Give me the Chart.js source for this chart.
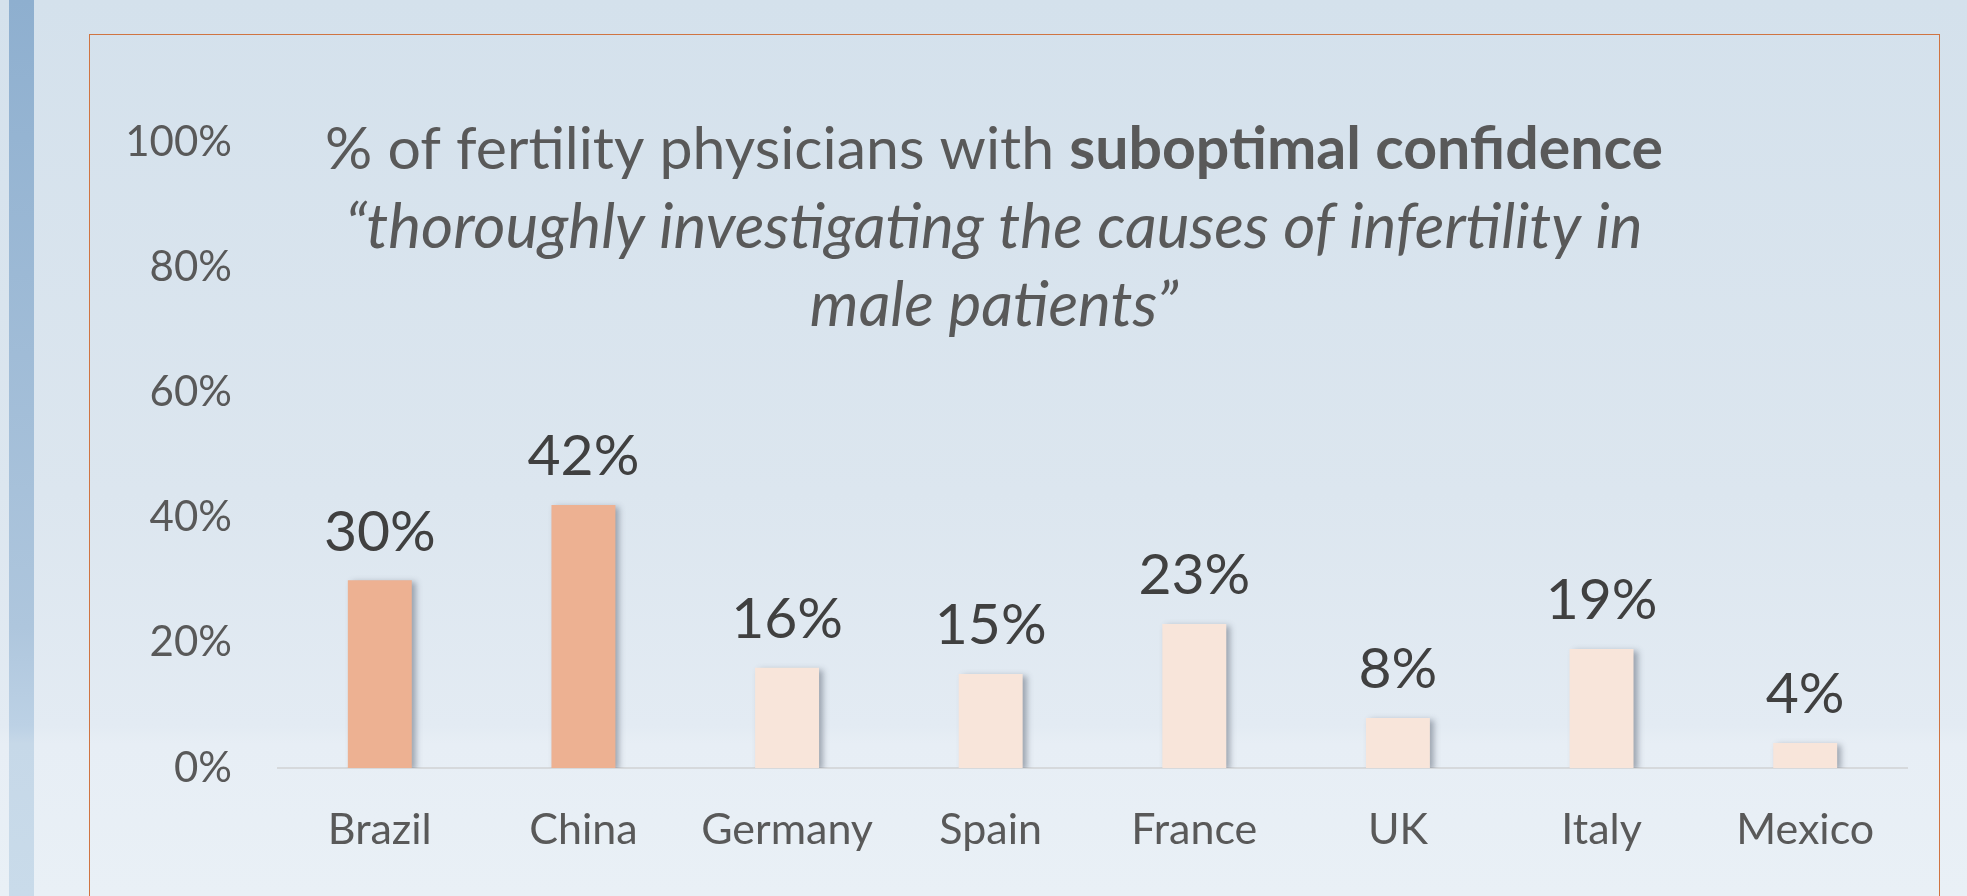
<!DOCTYPE html>
<html>
<head>
<meta charset="utf-8">
<script src="https://cdn.jsdelivr.net/npm/chart.js@4.4.1/dist/chart.umd.min.js"></script>
<style>
  html, body { margin: 0; padding: 0; width: 1967px; height: 896px; overflow: hidden; }
  body {
    position: relative;
    background: linear-gradient(to bottom, #d4e1ec 0%, #dce6ef 55%, #e3ebf3 81%, #e7eef5 83%, #e9f0f6 100%);
  }
  #sideBar {
    position: absolute; left: 9px; top: 0; width: 25px; height: 896px;
    background: linear-gradient(to bottom, #8eafcf 0%, #aec6dd 70%, #bcd1e5 81%, #c6d8e8 83%, #c9dbea 100%);
  }
  #frame {
    position: absolute; left: 89px; top: 34px; width: 1851px; height: 900px;
    border: 1px solid #cf7442; box-sizing: border-box;
  }
  #chartBox { position: absolute; left: 0; top: 0; width: 1967px; height: 896px; }
</style>
</head>
<body>
<div id="sideBar"></div>
<div id="frame"></div>
<div id="chartBox"><canvas id="confidenceChart" width="1967" height="896"></canvas></div>
<script>
const countries = ['Brazil', 'China', 'Germany', 'Spain', 'France', 'UK', 'Italy', 'Mexico'];
const suboptimalPct = [30, 42, 16, 15, 23, 8, 19, 4];
const highlighted = ['Brazil', 'China'];

const titleRegular = '% of fertility physicians with ';
const titleBold = 'suboptimal confidence';
const titleQuote = ['\u201Cthoroughly investigating the causes of infertility in', 'male patients\u201D'];

const FONT = 'Lato, "Open Sans", sans-serif';
const strongColor = '#edb192';
const paleColor = '#f8e5da';

// Bars get a soft grey shadow to the right
const barShadow = {
    id: 'barShadow',
    beforeDatasetDraw(chart) {
        const ctx = chart.ctx;
        ctx.save();
        ctx.shadowColor = 'rgba(70, 80, 95, 0.45)';
        ctx.shadowBlur = 6;
        ctx.shadowOffsetX = 4;
        ctx.shadowOffsetY = 2;
    },
    afterDatasetDraw(chart) {
        chart.ctx.restore();
    }
};

// Value labels above each bar
const valueLabels = {
    id: 'valueLabels',
    afterDatasetsDraw(chart) {
        const ctx = chart.ctx;
        const meta = chart.getDatasetMeta(0);
        ctx.save();
        ctx.font = '57px ' + FONT;
        ctx.fillStyle = '#404040';
        ctx.textAlign = 'center';
        ctx.textBaseline = 'middle';
        meta.data.forEach((bar, i) => {
            ctx.fillText(suboptimalPct[i] + '%', bar.x, bar.y - 48);
        });
        ctx.restore();
    }
};

// Title with mixed weight on the first line, italic quote below
const mixedTitle = {
    id: 'mixedTitle',
    afterDraw(chart) {
        const ctx = chart.ctx;
        const cx = 994;
        const size = 59;
        const quoteSize = 62;
        ctx.save();
        ctx.fillStyle = '#595959';
        ctx.textBaseline = 'middle';
        ctx.textAlign = 'left';

        ctx.font = size + 'px ' + FONT;
        const w1 = ctx.measureText(titleRegular).width;
        ctx.font = 'bold ' + size + 'px ' + FONT;
        const w2 = ctx.measureText(titleBold).width;
        const x = cx - (w1 + w2) / 2;
        ctx.font = size + 'px ' + FONT;
        ctx.fillText(titleRegular, x, 150);
        ctx.font = 'bold ' + size + 'px ' + FONT;
        ctx.fillText(titleBold, x + w1, 150);

        ctx.font = 'italic ' + quoteSize + 'px ' + FONT;
        ctx.textAlign = 'center';
        titleQuote.forEach((line, i) => {
            ctx.fillText(line, cx, 228 + i * 78);
        });
        ctx.restore();
    }
};

const ctx = document.getElementById('confidenceChart').getContext('2d');
new Chart(ctx, {
    type: 'bar',
    data: {
        labels: countries,
        datasets: [{
            data: suboptimalPct,
            backgroundColor: countries.map(c => highlighted.includes(c) ? strongColor : paleColor),
            borderWidth: 0,
            categoryPercentage: 1,
            barPercentage: 0.314
        }]
    },
    options: {
        responsive: false,
        devicePixelRatio: 1,
        animation: false,
        layout: { padding: { top: 142, right: 60, bottom: 0, left: 0 } },
        plugins: {
            legend: { display: false },
            title: { display: false },
            tooltip: { enabled: false }
        },
        scales: {
            x: {
                grid: { display: false, drawTicks: false },
                border: { display: true, color: '#d6d9dc', width: 2 },
                ticks: {
                    color: '#595959',
                    font: { family: FONT, size: 43 },
                    padding: 36,
                    maxRotation: 0
                },
                afterFit(scale) { scale.height = 128; }
            },
            y: {
                min: 0,
                max: 100,
                grid: { display: false, drawTicks: false },
                border: { display: false },
                ticks: {
                    stepSize: 20,
                    color: '#595959',
                    font: { family: FONT, size: 42 },
                    padding: 46,
                    callback: v => v + '%'
                },
                afterFit(scale) { scale.width = 278; }
            }
        }
    },
    plugins: [barShadow, valueLabels, mixedTitle]
});
</script>
</body>
</html>
